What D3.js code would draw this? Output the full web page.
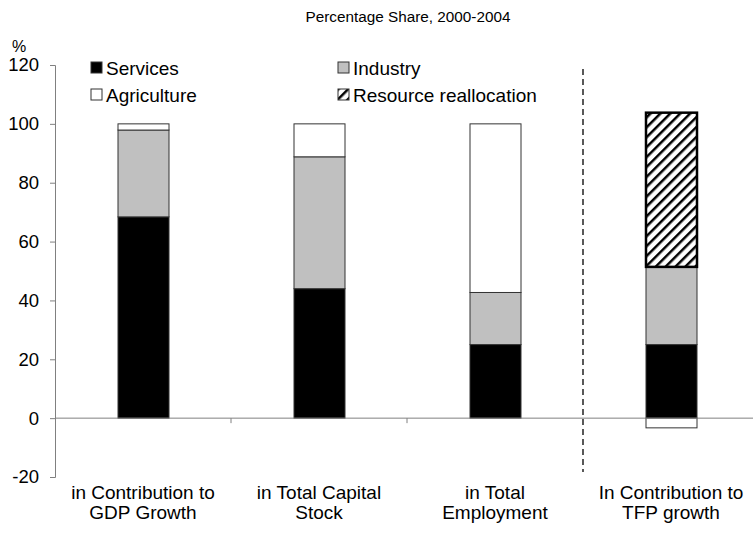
<!DOCTYPE html>
<html>
<head>
<meta charset="utf-8">
<script src="https://cdn.jsdelivr.net/npm/d3@7"></script>
<style>
  body { margin: 0; background: #fff; }
  svg { font-family: "Liberation Sans", Arial, sans-serif; }
</style>
</head>
<body>
<div id="chart"></div>
<script>
// values (percent)
const categories = [
  ['in Contribution to', 'GDP Growth'],
  ['in Total Capital', 'Stock'],
  ['in Total', 'Employment'],
  ['In Contribution to', 'TFP growth']
]
const seriesNames = ['Services', 'Industry', 'Agriculture', 'Resource reallocation']
const services = [68.4, 44, 25, 25]
const industry = [29.5, 44.8, 17.7, 26.4]
const agriculture = [2.1, 11.2, 57.3, -3.3]
const reallocation = [0, 0, 0, 52.4]
const yTicks = [-20, 0, 20, 40, 60, 80, 100, 120]

const width = 753
const height = 538

const svg = d3.select('#chart').append('svg')
  .attr('width', width).attr('height', height)

// hatch pattern
const defs = svg.append('defs')
const pat = defs.append('pattern')
  .attr('id', 'hatch')
  .attr('patternUnits', 'userSpaceOnUse')
  .attr('width', 7).attr('height', 7)
  .attr('patternTransform', 'rotate(45)')
pat.append('rect').attr('width', 7).attr('height', 7).attr('fill', '#fff')
pat.append('line').attr('x1', 0).attr('y1', 0).attr('x2', 0).attr('y2', 7)
  .attr('stroke', '#000').attr('stroke-width', 5)

const x = d3.scaleBand().domain(d3.range(categories.length)).range([55, 759]).padding(0)
const y = d3.scaleLinear().domain([-20, 120]).range([477, 65])
const barW = 51

// y axis
const yAxis = svg.append('g')
  .attr('transform', 'translate(55,0)')
  .call(d3.axisLeft(y).tickValues(yTicks).tickSize(5).tickPadding(11))
yAxis.select('.domain').attr('stroke', '#808080')
yAxis.selectAll('.tick line').attr('stroke', '#808080')
yAxis.selectAll('.tick text').attr('font-size', 18.5).attr('fill', '#000')
  .attr('font-family', '"Liberation Sans", Arial, sans-serif')
  .text((d) => d < 0 ? '-' + Math.abs(d) : d)

// stacked segments
const fills = { Services: '#000', Industry: '#c0c0c0', Agriculture: '#fff', 'Resource reallocation': 'url(#hatch)' }
const segs = []
categories.forEach((c, i) => {
  let pos = 0
  const add = (name, v) => {
    if (v > 0) { segs.push({ i, name, y0: pos, y1: pos + v }); pos += v }
    else if (v < 0) segs.push({ i, name, y0: v, y1: 0 })
  }
  add('Services', services[i])
  add('Industry', industry[i])
  add('Agriculture', agriculture[i])
  add('Resource reallocation', reallocation[i])
})

svg.append('g').selectAll('rect')
  .data(segs)
  .enter()
  .append('rect')
  .attr('x', (d) => x(d.i) + x.bandwidth() / 2 - barW / 2 + 0.5)
  .attr('width', barW)
  .attr('y', (d) => y(d.y1))
  .attr('height', (d) => y(d.y0) - y(d.y1))
  .attr('fill', (d) => fills[d.name])
  .attr('stroke', (d) => d.name === 'Resource reallocation' ? '#000' : '#333')
  .attr('stroke-width', (d) => d.name === 'Resource reallocation' ? 2.5 : 1)

// x axis at zero
svg.append('line')
  .attr('x1', 55).attr('x2', width)
  .attr('y1', y(0)).attr('y2', y(0))
  .attr('stroke', '#808080')
svg.append('g').selectAll('line')
  .data([1, 2])
  .enter()
  .append('line')
  .attr('x1', (d) => x(d)).attr('x2', (d) => x(d))
  .attr('y1', y(0)).attr('y2', y(0) + 5)
  .attr('stroke', '#808080')

// dashed separator
svg.append('line')
  .attr('x1', x(3)).attr('x2', x(3))
  .attr('y1', 69).attr('y2', 472)
  .attr('stroke', '#000').attr('stroke-width', 1.3)
  .attr('stroke-dasharray', '6,4')

// category labels
categories.forEach((c, i) => {
  const t = svg.append('text')
    .attr('x', x(i) + x.bandwidth() / 2)
    .attr('text-anchor', 'middle')
    .attr('font-size', 19)
  c.forEach((line, k) => {
    t.append('tspan').attr('x', x(i) + x.bandwidth() / 2).attr('y', 499 + k * 20).text(line)
  })
})

// title and unit
svg.append('text').attr('x', 408).attr('y', 22).attr('text-anchor', 'middle')
  .attr('font-size', 15.3).text('Percentage Share, 2000-2004')
svg.append('text').attr('x', 12).attr('y', 52).attr('font-size', 16).text('%')

// legend
const legendPos = [[91, 68], [338, 68], [91, 95], [338, 95]]
seriesNames.forEach((name, k) => {
  const [lx, ly] = legendPos[k]
  svg.append('rect')
    .attr('x', lx).attr('y', ly - 6).attr('width', 11).attr('height', 11)
    .attr('fill', fills[name]).attr('stroke', '#333').attr('stroke-width', 1)
  svg.append('text').attr('x', lx + 15).attr('y', ly + 6.5)
    .attr('font-size', 19).text(name)
})
</script>
</body>
</html>
